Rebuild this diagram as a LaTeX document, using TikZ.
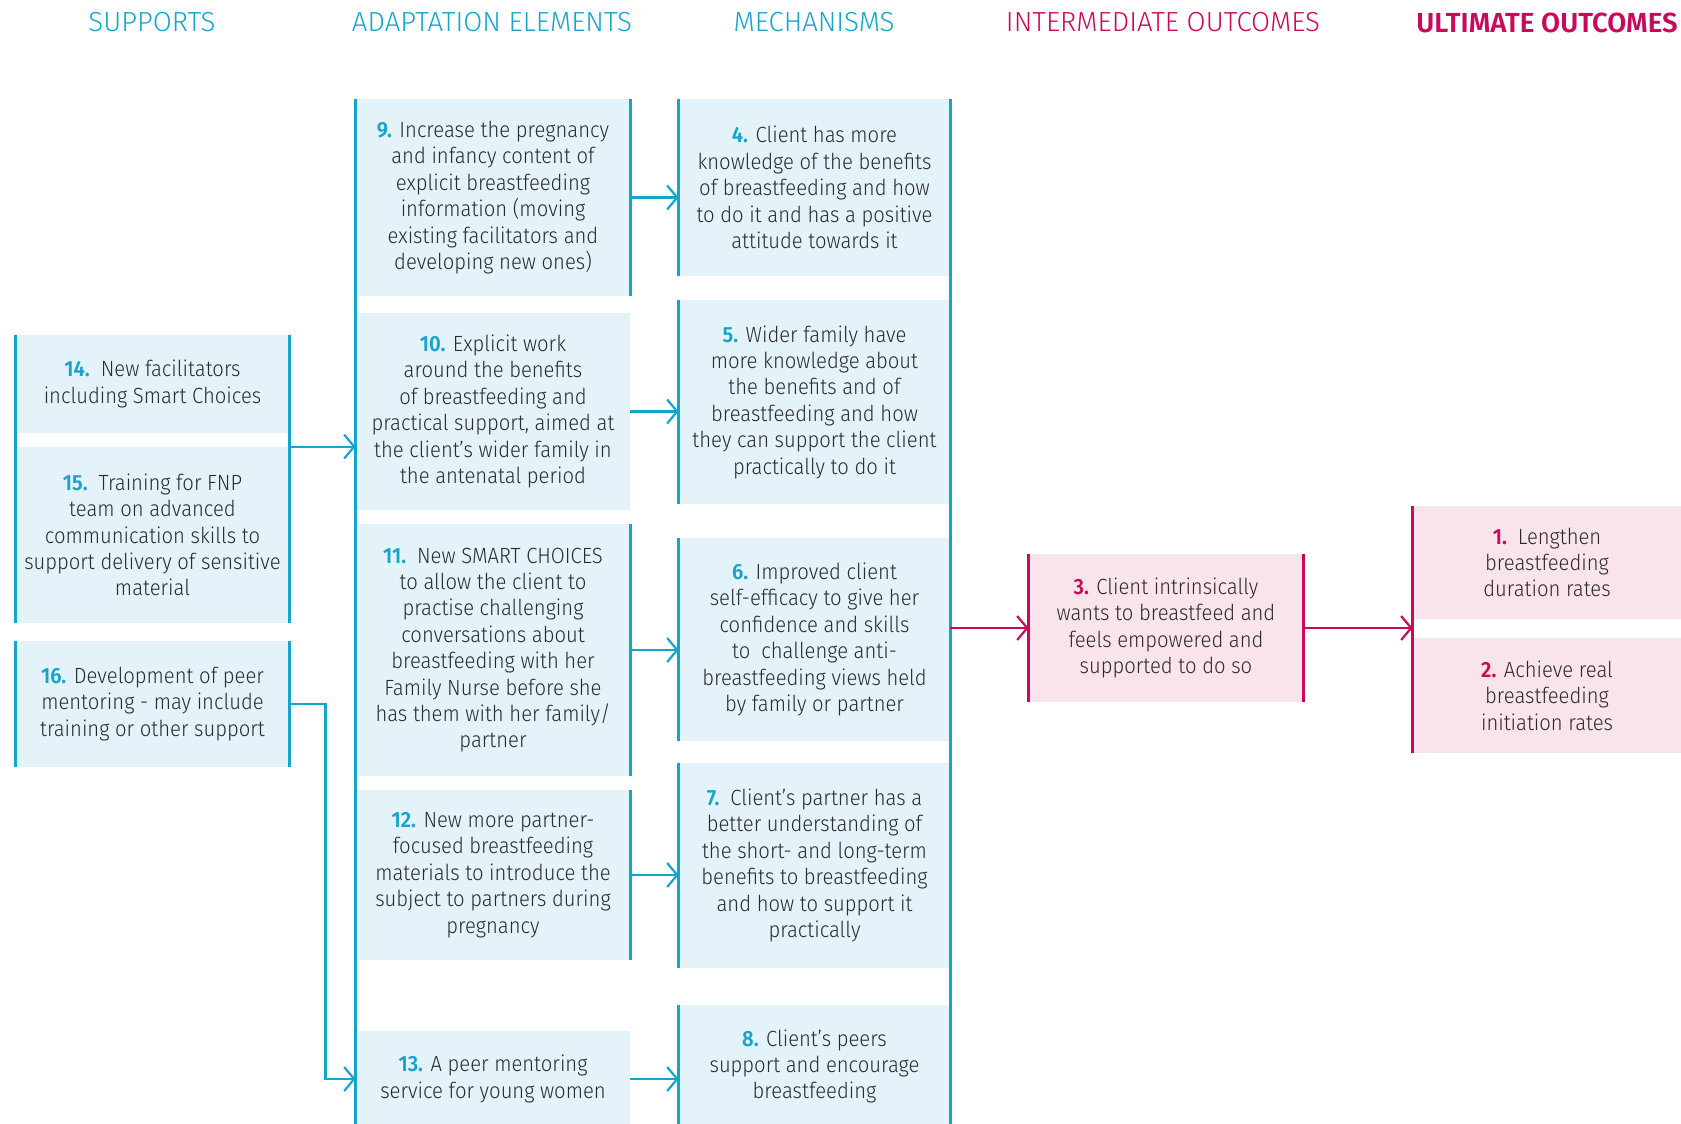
\documentclass[tikz,border=0pt]{standalone}
\usepackage{fontspec}
\setmainfont{Fira Sans Light}[FakeStretch=0.92,BoldFont={Fira Sans SemiBold}]
\newfontfamily\headfont{Fira Sans Light}[BoldFont={Fira Sans SemiBold}]
\usetikzlibrary{arrows.meta}

\definecolor{fnpcyan}{HTML}{15A5CB}
\definecolor{fnpsky}{HTML}{E4F3F9}
\definecolor{fnpmagenta}{HTML}{C90A5C}
\definecolor{fnppink}{HTML}{F8E4EA}
\definecolor{fnptext}{HTML}{2B2B2B}

\newcommand{\cnum}[1]{\textbf{\color{fnpcyan}#1}}
\newcommand{\mnum}[1]{\textbf{\color{fnpmagenta}#1}}

\tikzset{
  card/.style={inner sep=0pt,align=center,text=fnptext,font=\fontsize{11}{13.2}\selectfont},
  bluecard/.style={card,fill=fnpsky},
  pinkcard/.style={card,fill=fnppink},
  heading/.style={text=fnpcyan,font=\headfont\fontsize{13.8}{16}\selectfont},
  colline/.style={draw=fnpcyan,line width=1.2pt},
  pinkline/.style={draw=fnpmagenta,line width=1.2pt},
  flow/.style={->,draw=fnpcyan,line width=1.1pt},
  pinkflow/.style={->,draw=fnpmagenta,line width=1.1pt},
}

\begin{document}
\begin{tikzpicture}[x=0.5pt,y=-0.5pt,>={Straight Barb[length=5pt,width=12pt]}]
  \useasboundingbox (0,0) rectangle (1681,1124);

  % column headings
  \node[heading] (hsup) at (152,22.5) {SUPPORTS};
  \node[heading] (hada) at (492,22.5) {ADAPTATION ELEMENTS};
  \node[heading] (hmec) at (814,22.5) {MECHANISMS};
  \node[heading,text=fnpmagenta] (hint) at (1163,22.5) {INTERMEDIATE OUTCOMES};
  \node[heading,text=fnpmagenta,font=\headfont\fontsize{13.8}{16}\selectfont\bfseries] (hult) at (1547,22.5) {ULTIMATE OUTCOMES};

  % supports
  \node[bluecard,minimum width=136.5pt,minimum height=49pt] (b14) at (152.5,384)
    {\cnum{14.}\enspace New facilitators\\including Smart Choices};
  \node[bluecard,minimum width=136.5pt,minimum height=88pt] (b15) at (152.5,535)
    {\cnum{15.}\enspace Training for FNP\\team on advanced\\communication skills to\\support delivery of sensitive\\material};
  \node[bluecard,minimum width=136.5pt,minimum height=63pt] (b16) at (152.5,704)
    {\cnum{16.} Development of peer\\mentoring - may include\\training or other support};

  % adaptation elements
  \node[bluecard,minimum width=137pt,minimum height=98.5pt] (b9) at (493,197.5)
    {\cnum{9.} Increase the pregnancy\\and infancy content of\\explicit breastfeeding\\information (moving\\existing facilitators and\\developing new ones)};
  \node[bluecard,minimum width=137pt,minimum height=98.5pt] (b10) at (493,411.5)
    {\cnum{10.} Explicit work\\around the benefits\\of breastfeeding and\\practical support, aimed at\\the client’s wider family in\\the antenatal period};
  \node[bluecard,minimum width=137pt,minimum height=126pt] (b11) at (493,650)
    {\cnum{11.}\enspace New SMART CHOICES\\to allow the client to\\practise challenging\\conversations about\\breastfeeding with her\\Family Nurse before she\\has them with her family/\\partner};
  \node[bluecard,minimum width=137pt,minimum height=85pt] (b12) at (493,875)
    {\cnum{12.} New more partner-\\focused breastfeeding\\materials to introduce the\\subject to partners during\\pregnancy};
  \node[bluecard,minimum width=137pt,minimum height=48pt] (b13) at (493,1079)
    {\cnum{13.} A peer mentoring\\service for young women};

  % mechanisms
  \node[bluecard,minimum width=135.5pt,minimum height=88.5pt] (b4) at (814.5,187.5)
    {\cnum{4.} Client has more\\knowledge of the benefits\\of breastfeeding and how\\to do it and has a positive\\attitude towards it};
  \node[bluecard,minimum width=135.5pt,minimum height=102pt] (b5) at (814.5,402)
    {\cnum{5.} Wider family have\\more knowledge about\\the benefits and of\\breastfeeding and how\\they can support the client\\practically to do it};
  \node[bluecard,minimum width=135.5pt,minimum height=101.5pt] (b6) at (814.5,639.5)
    {\cnum{6.} Improved client\\self-efficacy to give her\\confidence and skills\\to\enspace challenge anti-\\breastfeeding views held\\by family or partner};
  \node[bluecard,minimum width=135.5pt,minimum height=102.5pt] (b7) at (814.5,865.5)
    {\cnum{7.}\enspace Client’s partner has a\\better understanding of\\the short- and long-term\\benefits to breastfeeding\\and how to support it\\practically};
  \node[bluecard,minimum width=135.5pt,minimum height=61.5pt] (b8) at (814.5,1066.5)
    {\cnum{8.} Client’s peers\\support and encourage\\breastfeeding};

  % outcomes
  \node[pinkcard,minimum width=137pt,minimum height=74pt] (b3) at (1166,628)
    {\mnum{3.} Client intrinsically\\wants to breastfeed and\\feels empowered and\\supported to do so};
  \node[pinkcard,minimum width=134pt,minimum height=56.5pt] (b1) at (1547,562.5)
    {\mnum{1.}\enspace Lengthen\\breastfeeding\\duration rates};
  \node[pinkcard,minimum width=134pt,minimum height=57.5pt] (b2) at (1547,695.5)
    {\mnum{2.} Achieve real\\breastfeeding\\initiation rates};

  % column rules
  \draw[colline] (b14.north west) -- (b15.south west);
  \draw[colline] (b14.north east) -- (b15.south east);
  \draw[colline] (b16.north west) -- (b16.south west);
  \draw[colline] (b16.north east) -- (b16.south east);
  \draw[colline] (b9.north west) -- (b13.south west);
  \foreach \b in {b9,b11,b12}
    \draw[colline] (\b.north east) -- (\b.south east);
  \foreach \b in {b4,b5,b6,b7,b8}
    \draw[colline] (\b.north west) -- (\b.south west);
  \draw[colline] (b4.north east) -- (b8.south east);
  \draw[pinkline] (b3.north west) -- (b3.south west);
  \draw[pinkline] (b3.north east) -- (b3.south east);
  \draw[pinkline] (b1.north west) -- (b2.south west);

  % arrows
  \draw[flow] (b15.north east) -- (b15.north east -| b10.west);
  \foreach \a/\m in {b9/b4,b10/b5,b11/b6,b12/b7,b13/b8}
    \draw[flow] (\a.east) -- (\a.east -| \m.west);
  \draw[flow] (b16.east) -- ++(36,0) |- (b13.west);
  \draw[pinkflow] (b3.west -| b6.east) -- (b3.west);
  \draw[pinkflow] (b3.east) -- (b3.east -| b1.west);
\end{tikzpicture}
\end{document}
